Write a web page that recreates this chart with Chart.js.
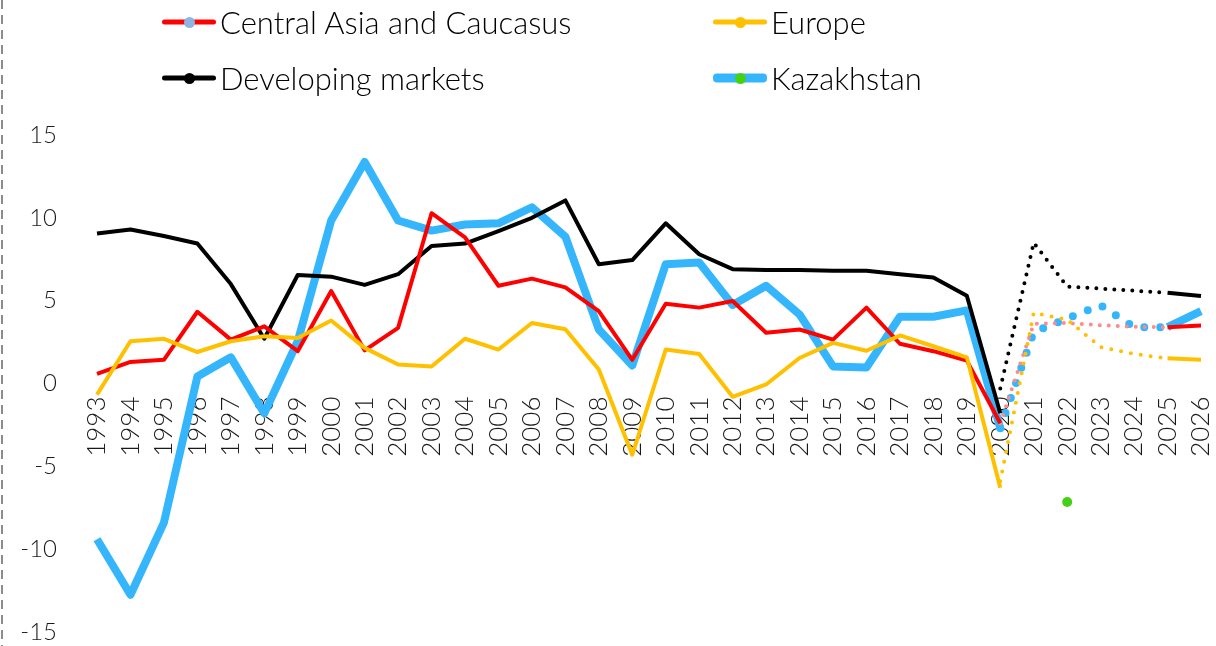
<!DOCTYPE html>
<html>
<head>
<meta charset="utf-8">
<script src="https://cdn.jsdelivr.net/npm/chart.js@4"></script>
<style>
  html, body { margin: 0; padding: 0; background: #fff; }
  #wrap { position: relative; width: 1216px; height: 646px; overflow: hidden; }
  #edge { position: absolute; left: 1px; top: 0; width: 2px; height: 646px;
    background: repeating-linear-gradient(to bottom, #8c8c8c 0 9px, transparent 9px 15px); }
  #legend { position: absolute; left: 0; top: 0; width: 1216px; height: 110px;
    font-family: Lato, sans-serif; font-weight: 300; font-size: 31px; color: #000; }
  .item { position: absolute; display: flex; align-items: center; height: 40px; transform: translateY(-50%); }
  .swatch { position: relative; width: 54px; height: 40px; margin-right: 4px; }
  .swatch .ln { position: absolute; left: 0; right: 0; top: 50%; transform: translateY(-50%); border-radius: 4px; }
  .swatch .dot { position: absolute; left: 50%; top: 50%; width: 11px; height: 11px; margin: -5.5px 0 0 -5.5px; border-radius: 50%; }
  canvas { position: absolute; left: 0; top: 0; }
</style>
</head>
<body>
<div id="wrap">
  <canvas id="chart" width="1216" height="646"></canvas>
  <div id="edge"></div>
  <div id="legend"></div>
</div>
<script>
const years = ["1993", "1994", "1995", "1996", "1997", "1998", "1999", "2000", "2001", "2002",
  "2003", "2004", "2005", "2006", "2007", "2008", "2009", "2010", "2011", "2012",
  "2013", "2014", "2015", "2016", "2017", "2018", "2019", "2020", "2021", "2022",
  "2023", "2024", "2025", "2026"];

// actual values 1993-2020, then 2025-2026 (forecast years 2021-2024 drawn dotted)
const centralAsia = [0.58, 1.3, 1.43, 4.33, 2.65, 3.45, 1.95, 5.58, 2.0, 3.36,
  10.28, 8.82, 5.9, 6.33, 5.8, 4.37, 1.43, 4.82, 4.58, 4.98,
  3.06, 3.26, 2.65, 4.58, 2.4, 1.95, 1.38, -2.4, null, null,
  null, null, 3.4, 3.5];
const centralAsiaForecast = [-2.4, 3.6, 3.65, 3.52, 3.42, 3.4];

const europe = [-0.67, 2.55, 2.7, 1.9, 2.55, 2.85, 2.75, 3.8, 2.15, 1.15,
  1.03, 2.7, 2.05, 3.65, 3.28, 0.85, -4.3, 2.05, 1.78, -0.8,
  -0.06, 1.54, 2.45, 1.98, 2.9, 2.25, 1.58, -6.3, null, null,
  null, null, 1.52, 1.44];
const europeForecast = [-5.9, 4.27, 3.85, 2.2, 1.78, 1.52];

const developing = [9.05, 9.3, 8.9, 8.45, 6.0, 2.7, 6.55, 6.45, 5.95, 6.6,
  8.3, 8.45, 9.2, 10.0, 11.05, 7.2, 7.45, 9.67, 7.8, 6.9,
  6.85, 6.85, 6.8, 6.8, 6.6, 6.4, 5.3, -1.8, null, null,
  null, null, 5.48, 5.28];
const developingForecast = [-0.3, 8.5, 5.85, 5.73, 5.6, 5.48];

const kazakhstan = [-9.4, -12.75, -8.4, 0.42, 1.58, -1.8, 2.55, 9.84, 13.37, 9.84,
  9.23, 9.6, 9.67, 10.64, 8.86, 3.26, 1.09, 7.2, 7.3, 4.74,
  5.9, 4.17, 1.03, 0.97, 4.03, 4.03, 4.41, -2.7, null, null,
  null, null, 3.4, 4.37];
const kazakhstanForecast = [-2.7, 3.1, 3.93, 4.72, 3.4, 3.4];

// stray marker in the source picture
const strayYear = "2022";
const strayValue = -7.15;

const forecastStart = years.indexOf("2020");
function padForecast(vals) {
  return years.map((y, i) => {
    const k = i - forecastStart;
    return k >= 0 && k < vals.length ? vals[k] : null;
  });
}

const series = [
  { name: "Central Asia and Caucasus", data: centralAsia, forecast: centralAsiaForecast,
    color: "#ff0000", dotColor: "#ff8a8a", marker: "#8db4e2", width: 4, dotGap: 9, legendWidth: 5 },
  { name: "Europe", data: europe, forecast: europeForecast,
    color: "#ffc000", dotColor: "#ffc000", marker: "#ffc000", width: 4, dotGap: 10, legendWidth: 5 },
  { name: "Developing markets", data: developing, forecast: developingForecast,
    color: "#000000", dotColor: "#000000", marker: "#000000", width: 4, dotGap: 9, legendWidth: 5 },
  { name: "Kazakhstan", data: kazakhstan, forecast: kazakhstanForecast,
    color: "#35b6fc", dotColor: "#35b6fc", marker: "#44d115", width: 8, dotGap: 16, legendWidth: 9 },
];

const drawOrder = ["Europe", "Central Asia and Caucasus", "Developing markets", "Kazakhstan"];
const datasets = [];
drawOrder.forEach((name) => {
  const s = series.find((d) => d.name === name);
  datasets.push({
    label: s.name,
    data: s.data,
    borderColor: s.color,
    borderWidth: s.width,
    borderJoinStyle: "round",
    pointRadius: 0,
    spanGaps: false,
    tension: 0,
  });
  datasets.push({
    label: s.name + " forecast",
    data: padForecast(s.forecast),
    borderColor: s.dotColor,
    borderWidth: s.width,
    borderCapStyle: "round",
    borderDash: [0, s.dotGap],
    pointRadius: 0,
    spanGaps: false,
    tension: 0,
  });
});
datasets.push({
  label: "marker",
  data: years.map((y) => (y === strayYear ? strayValue : null)),
  showLine: false,
  pointRadius: 5,
  pointBackgroundColor: "#44d115",
  pointBorderWidth: 0,
});

// legend
const legendSpots = [[162, 22], [713, 22], [162, 78], [713, 78]];
const legendOrder = ["Central Asia and Caucasus", "Europe", "Developing markets", "Kazakhstan"];
const legendBox = document.getElementById("legend");
legendOrder.forEach((name, i) => {
  const s = series.find((d) => d.name === name);
  const el = document.createElement("div");
  el.className = "item";
  el.style.left = legendSpots[i][0] + "px";
  el.style.top = legendSpots[i][1] + "px";
  el.innerHTML = `
    <div class="swatch">
      <div class="ln" style="height:${s.legendWidth}px;background:${s.color}"></div>
      <div class="dot" style="background:${s.marker}"></div>
    </div>
    <span>${s.name}</span>`;
  legendBox.appendChild(el);
});

const tickFont = { family: "Lato, sans-serif", weight: 300 };

new Chart(document.getElementById("chart").getContext("2d"), {
  type: "line",
  data: { labels: years, datasets },
  options: {
    responsive: false,
    animation: false,
    layout: { padding: { top: 135, right: 15, bottom: 14, left: 0 } },
    plugins: { legend: { display: false }, tooltip: { enabled: false } },
    elements: { line: { clip: false } },
    scales: {
      x: {
        position: { y: 0 },
        grid: { display: false, drawTicks: true, tickLength: 10 },
        border: { display: false },
        afterFit: (scale) => {
          scale.height = 0;
          scale.paddingLeft = 0;
          scale.paddingRight = 0;
        },
        ticks: {
          autoSkip: false,
          minRotation: 90,
          maxRotation: 90,
          color: "#1a1a1a",
          font: { ...tickFont, size: 26 },
        },
      },
      y: {
        min: -15,
        max: 15,
        grid: { display: false, drawTicks: false },
        border: { display: false },
        afterFit: (scale) => {
          scale.width = 97;
          scale.paddingTop = 0;
          scale.paddingBottom = 0;
        },
        ticks: {
          stepSize: 5,
          padding: 40,
          color: "#1a1a1a",
          font: { ...tickFont, size: 24 },
        },
      },
    },
  },
});
</script>
</body>
</html>
